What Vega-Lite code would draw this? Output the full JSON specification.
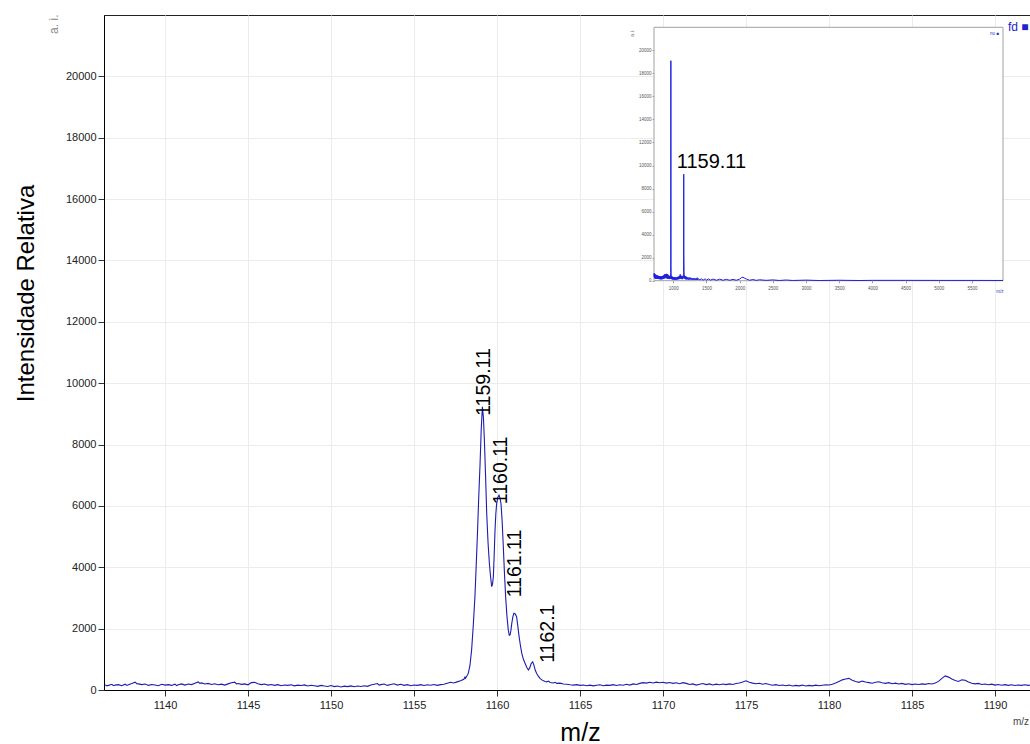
{
  "$schema": "https://vega.github.io/schema/vega-lite/v6.json",
  "width": 926,
  "height": 675,
  "autosize": {"type": "none"},
  "padding": {"left": 104, "top": 15, "right": 0, "bottom": 54},
  "background": "white",
  "config": {"font": "Liberation Sans", "view": {"stroke": "#222", "strokeWidth": 1}},
  "datasets": {
    "main": [
      {"mz":1136.4,"i":170},{"mz":1136.5,"i":135},{"mz":1136.6,"i":150},{"mz":1136.8,"i":185},{"mz":1136.9,"i":140},{"mz":1137.0,"i":160},{"mz":1137.2,"i":175},{"mz":1137.4,"i":140},{"mz":1137.6,"i":190},{"mz":1137.7,"i":150},{"mz":1137.8,"i":170},{"mz":1138.0,"i":210},{"mz":1138.2,"i":255},{"mz":1138.3,"i":205},{"mz":1138.4,"i":200},{"mz":1138.6,"i":175},{"mz":1138.8,"i":195},{"mz":1139.0,"i":150},{"mz":1139.2,"i":180},{"mz":1139.4,"i":165},{"mz":1139.6,"i":140},{"mz":1139.8,"i":185},{"mz":1140.0,"i":160},{"mz":1140.2,"i":175},{"mz":1140.4,"i":150},{"mz":1140.6,"i":190},{"mz":1140.7,"i":145},{"mz":1140.8,"i":170},{"mz":1141.0,"i":200},{"mz":1141.2,"i":160},{"mz":1141.4,"i":195},{"mz":1141.6,"i":175},{"mz":1141.8,"i":220},{"mz":1142.0,"i":265},{"mz":1142.1,"i":215},{"mz":1142.2,"i":230},{"mz":1142.4,"i":195},{"mz":1142.6,"i":215},{"mz":1142.8,"i":180},{"mz":1143.0,"i":205},{"mz":1143.2,"i":170},{"mz":1143.4,"i":190},{"mz":1143.6,"i":160},{"mz":1143.8,"i":200},{"mz":1144.0,"i":235},{"mz":1144.2,"i":255},{"mz":1144.3,"i":200},{"mz":1144.4,"i":210},{"mz":1144.6,"i":185},{"mz":1144.8,"i":200},{"mz":1145.0,"i":170},{"mz":1145.2,"i":240},{"mz":1145.4,"i":250},{"mz":1145.6,"i":205},{"mz":1145.8,"i":175},{"mz":1146.0,"i":195},{"mz":1146.2,"i":160},{"mz":1146.4,"i":180},{"mz":1146.6,"i":150},{"mz":1146.8,"i":175},{"mz":1147.0,"i":140},{"mz":1147.2,"i":165},{"mz":1147.4,"i":150},{"mz":1147.6,"i":170},{"mz":1147.8,"i":135},{"mz":1148.0,"i":160},{"mz":1148.2,"i":145},{"mz":1148.4,"i":165},{"mz":1148.6,"i":130},{"mz":1148.8,"i":155},{"mz":1149.0,"i":140},{"mz":1149.2,"i":120},{"mz":1149.4,"i":150},{"mz":1149.6,"i":130},{"mz":1149.8,"i":115},{"mz":1150.0,"i":145},{"mz":1150.2,"i":110},{"mz":1150.4,"i":130},{"mz":1150.6,"i":100},{"mz":1150.8,"i":125},{"mz":1151.0,"i":110},{"mz":1151.2,"i":135},{"mz":1151.4,"i":105},{"mz":1151.6,"i":130},{"mz":1151.8,"i":115},{"mz":1152.0,"i":140},{"mz":1152.2,"i":120},{"mz":1152.4,"i":165},{"mz":1152.6,"i":190},{"mz":1152.8,"i":210},{"mz":1152.9,"i":160},{"mz":1153.0,"i":175},{"mz":1153.2,"i":195},{"mz":1153.4,"i":150},{"mz":1153.6,"i":180},{"mz":1153.8,"i":205},{"mz":1154.0,"i":160},{"mz":1154.2,"i":185},{"mz":1154.4,"i":150},{"mz":1154.6,"i":175},{"mz":1154.8,"i":140},{"mz":1155.0,"i":165},{"mz":1155.2,"i":150},{"mz":1155.4,"i":175},{"mz":1155.6,"i":145},{"mz":1155.8,"i":170},{"mz":1156.0,"i":155},{"mz":1156.2,"i":180},{"mz":1156.4,"i":150},{"mz":1156.6,"i":175},{"mz":1156.8,"i":190},{"mz":1157.0,"i":220},{"mz":1157.2,"i":250},{"mz":1157.4,"i":230},{"mz":1157.6,"i":265},{"mz":1157.8,"i":300},{"mz":1158.0,"i":350},{"mz":1158.07,"i":420},{"mz":1158.1,"i":380},{"mz":1158.2,"i":470},{"mz":1158.27,"i":540},{"mz":1158.37,"i":800},{"mz":1158.47,"i":1300},{"mz":1158.57,"i":2100},{"mz":1158.67,"i":3040},{"mz":1158.75,"i":4100},{"mz":1158.83,"i":5210},{"mz":1158.9,"i":6300},{"mz":1158.98,"i":7380},{"mz":1159.05,"i":8500},{"mz":1159.12,"i":9230},{"mz":1159.18,"i":8900},{"mz":1159.24,"i":8140},{"mz":1159.31,"i":7000},{"mz":1159.38,"i":5750},{"mz":1159.46,"i":4800},{"mz":1159.54,"i":4130},{"mz":1159.61,"i":3700},{"mz":1159.68,"i":3370},{"mz":1159.73,"i":3450},{"mz":1159.78,"i":3690},{"mz":1159.83,"i":4400},{"mz":1159.88,"i":5210},{"mz":1159.93,"i":5750},{"mz":1159.98,"i":6080},{"mz":1160.05,"i":6280},{"mz":1160.12,"i":6350},{"mz":1160.18,"i":6250},{"mz":1160.24,"i":6080},{"mz":1160.31,"i":5500},{"mz":1160.38,"i":4670},{"mz":1160.45,"i":3800},{"mz":1160.52,"i":3040},{"mz":1160.6,"i":2400},{"mz":1160.68,"i":1950},{"mz":1160.74,"i":1780},{"mz":1160.79,"i":1800},{"mz":1160.84,"i":1950},{"mz":1160.89,"i":2170},{"mz":1160.96,"i":2400},{"mz":1161.02,"i":2500},{"mz":1161.1,"i":2480},{"mz":1161.18,"i":2390},{"mz":1161.25,"i":2100},{"mz":1161.33,"i":1740},{"mz":1161.41,"i":1450},{"mz":1161.49,"i":1200},{"mz":1161.59,"i":1000},{"mz":1161.69,"i":870},{"mz":1161.79,"i":740},{"mz":1161.89,"i":650},{"mz":1161.97,"i":720},{"mz":1162.06,"i":860},{"mz":1162.15,"i":920},{"mz":1162.22,"i":820},{"mz":1162.3,"i":650},{"mz":1162.39,"i":540},{"mz":1162.49,"i":450},{"mz":1162.59,"i":380},{"mz":1162.7,"i":330},{"mz":1162.8,"i":300},{"mz":1162.9,"i":280},{"mz":1163.0,"i":265},{"mz":1163.1,"i":290},{"mz":1163.2,"i":245},{"mz":1163.4,"i":230},{"mz":1163.5,"i":250},{"mz":1163.6,"i":215},{"mz":1163.8,"i":225},{"mz":1164.0,"i":195},{"mz":1164.2,"i":185},{"mz":1164.4,"i":170},{"mz":1164.6,"i":160},
      {"mz":1164.8,"i":175},{"mz":1165.0,"i":150},{"mz":1165.2,"i":165},{"mz":1165.4,"i":140},{"mz":1165.6,"i":160},{"mz":1165.8,"i":135},{"mz":1166.0,"i":155},{"mz":1166.2,"i":170},{"mz":1166.4,"i":140},{"mz":1166.6,"i":160},{"mz":1166.8,"i":150},{"mz":1167.0,"i":175},{"mz":1167.2,"i":145},{"mz":1167.4,"i":170},{"mz":1167.6,"i":155},{"mz":1167.8,"i":185},{"mz":1168.0,"i":160},{"mz":1168.2,"i":200},{"mz":1168.4,"i":180},{"mz":1168.6,"i":215},{"mz":1168.8,"i":240},{"mz":1169.0,"i":225},{"mz":1169.2,"i":250},{"mz":1169.4,"i":230},{"mz":1169.6,"i":255},{"mz":1169.8,"i":235},{"mz":1170.0,"i":250},{"mz":1170.2,"i":225},{"mz":1170.4,"i":245},{"mz":1170.6,"i":215},{"mz":1170.8,"i":235},{"mz":1171.0,"i":205},{"mz":1171.2,"i":240},{"mz":1171.4,"i":215},{"mz":1171.6,"i":180},{"mz":1171.8,"i":200},{"mz":1172.0,"i":160},{"mz":1172.2,"i":185},{"mz":1172.4,"i":210},{"mz":1172.6,"i":175},{"mz":1172.8,"i":200},{"mz":1173.0,"i":165},{"mz":1173.2,"i":190},{"mz":1173.4,"i":170},{"mz":1173.6,"i":195},{"mz":1173.8,"i":175},{"mz":1174.0,"i":200},{"mz":1174.2,"i":180},{"mz":1174.4,"i":210},{"mz":1174.6,"i":230},{"mz":1174.8,"i":260},{"mz":1175.0,"i":300},{"mz":1175.2,"i":255},{"mz":1175.4,"i":225},{"mz":1175.6,"i":205},{"mz":1175.8,"i":220},{"mz":1176.0,"i":190},{"mz":1176.2,"i":210},{"mz":1176.4,"i":180},{"mz":1176.6,"i":155},{"mz":1176.8,"i":175},{"mz":1177.0,"i":145},{"mz":1177.2,"i":165},{"mz":1177.4,"i":140},{"mz":1177.6,"i":160},{"mz":1177.8,"i":130},{"mz":1178.0,"i":150},{"mz":1178.2,"i":135},{"mz":1178.4,"i":160},{"mz":1178.6,"i":130},{"mz":1178.8,"i":150},{"mz":1179.0,"i":135},{"mz":1179.2,"i":160},{"mz":1179.4,"i":140},{"mz":1179.6,"i":155},{"mz":1179.8,"i":170},{"mz":1180.0,"i":165},{"mz":1180.2,"i":190},{"mz":1180.4,"i":230},{"mz":1180.6,"i":280},{"mz":1180.8,"i":330},{"mz":1181.0,"i":360},{"mz":1181.2,"i":380},{"mz":1181.4,"i":320},{"mz":1181.6,"i":280},{"mz":1181.8,"i":250},{"mz":1182.0,"i":290},{"mz":1182.2,"i":260},{"mz":1182.4,"i":240},{"mz":1182.6,"i":220},{"mz":1182.8,"i":250},{"mz":1183.0,"i":270},{"mz":1183.2,"i":235},{"mz":1183.4,"i":215},{"mz":1183.6,"i":240},{"mz":1183.8,"i":205},{"mz":1184.0,"i":225},{"mz":1184.2,"i":195},{"mz":1184.4,"i":215},{"mz":1184.6,"i":185},{"mz":1184.8,"i":205},{"mz":1185.0,"i":175},{"mz":1185.2,"i":195},{"mz":1185.4,"i":180},{"mz":1185.6,"i":200},{"mz":1185.8,"i":185},{"mz":1186.0,"i":210},{"mz":1186.2,"i":195},{"mz":1186.4,"i":230},{"mz":1186.6,"i":280},{"mz":1186.8,"i":380},{"mz":1187.0,"i":460},{"mz":1187.2,"i":420},{"mz":1187.4,"i":360},{"mz":1187.6,"i":310},{"mz":1187.8,"i":280},{"mz":1188.0,"i":330},{"mz":1188.2,"i":320},{"mz":1188.4,"i":260},{"mz":1188.6,"i":220},{"mz":1188.8,"i":200},{"mz":1189.0,"i":215},{"mz":1189.2,"i":180},{"mz":1189.4,"i":195},{"mz":1189.6,"i":170},{"mz":1189.8,"i":190},{"mz":1190.0,"i":160},{"mz":1190.2,"i":180},{"mz":1190.4,"i":155},{"mz":1190.6,"i":175},{"mz":1190.8,"i":150},{"mz":1191.0,"i":170},{"mz":1191.2,"i":145},{"mz":1191.4,"i":165},{"mz":1191.6,"i":150},{"mz":1191.8,"i":170},{"mz":1192.0,"i":150},{"mz":1192.1,"i":160}
    ],
    "peaks": [
      {"label":"1159.11","mz":1159.12,"i":9230},
      {"label":"1160.11","mz":1160.12,"i":6350},
      {"label":"1161.11","mz":1161.02,"i":2500},
      {"label":"1162.1","mz":1162.15,"i":920}
    ],
    "notes": [
      {"t":"a. i.","kind":"ai","mz":1133.55,"i":21700},
      {"t":"m/z","kind":"mz","mz":1191.08,"i":-1140},
      {"t":"fd ■","kind":"legend","mz":1190.78,"i":21480}
    ],
    "inset": [
      {"mz":710,"i":350},{"mz":713,"i":650},{"mz":716,"i":250},{"mz":719,"i":600},{"mz":722,"i":220},{"mz":725,"i":560},{"mz":728,"i":200},{"mz":731,"i":520},{"mz":734,"i":180},{"mz":737,"i":480},{"mz":740,"i":200},{"mz":744,"i":500},{"mz":748,"i":180},{"mz":752,"i":460},{"mz":756,"i":170},{"mz":760,"i":450},{"mz":765,"i":160},{"mz":770,"i":420},{"mz":775,"i":150},{"mz":780,"i":420},{"mz":785,"i":140},{"mz":790,"i":400},{"mz":795,"i":130},{"mz":800,"i":400},{"mz":805,"i":130},{"mz":810,"i":380},{"mz":815,"i":120},{"mz":820,"i":380},{"mz":825,"i":120},{"mz":830,"i":370},{"mz":835,"i":130},{"mz":840,"i":400},{"mz":845,"i":150},{"mz":850,"i":450},{"mz":855,"i":170},{"mz":860,"i":500},{"mz":865,"i":200},{"mz":870,"i":540},{"mz":875,"i":220},{"mz":880,"i":580},{"mz":885,"i":230},{"mz":890,"i":580},{"mz":895,"i":220},{"mz":900,"i":600},{"mz":905,"i":200},{"mz":910,"i":560},{"mz":915,"i":180},{"mz":920,"i":520},{"mz":925,"i":160},{"mz":930,"i":460},{"mz":935,"i":150},{"mz":940,"i":420},{"mz":945,"i":140},{"mz":950,"i":400},{"mz":955,"i":150},{"mz":960,"i":500},{"mz":962,"i":700},{"mz":964,"i":19100},{"mz":966,"i":1250},{"mz":968,"i":600},{"mz":972,"i":150},{"mz":976,"i":380},{"mz":980,"i":120},{"mz":985,"i":350},{"mz":990,"i":110},{"mz":995,"i":330},{"mz":1000,"i":100},{"mz":1005,"i":320},{"mz":1010,"i":100},{"mz":1015,"i":300},{"mz":1020,"i":90},{"mz":1025,"i":290},{"mz":1030,"i":90},{"mz":1035,"i":280},{"mz":1040,"i":90},{"mz":1045,"i":280},{"mz":1050,"i":100},{"mz":1055,"i":300},{"mz":1060,"i":110},{"mz":1065,"i":320},{"mz":1070,"i":120},{"mz":1075,"i":350},{"mz":1080,"i":130},{"mz":1085,"i":380},{"mz":1090,"i":140},{"mz":1095,"i":420},{"mz":1100,"i":160},{"mz":1105,"i":550},{"mz":1110,"i":200},{"mz":1115,"i":450},{"mz":1120,"i":150},{"mz":1125,"i":380},{"mz":1130,"i":130},{"mz":1135,"i":350},{"mz":1140,"i":140},{"mz":1145,"i":420},{"mz":1150,"i":200},{"mz":1154,"i":550},{"mz":1156,"i":700},{"mz":1158,"i":9250},{"mz":1160,"i":2300},{"mz":1163,"i":800},{"mz":1166,"i":250},{"mz":1170,"i":450},{"mz":1175,"i":150},{"mz":1180,"i":400},{"mz":1185,"i":130},{"mz":1190,"i":350},{"mz":1195,"i":110},{"mz":1200,"i":330},{"mz":1210,"i":100},{"mz":1220,"i":300},{"mz":1230,"i":90},{"mz":1240,"i":280},{"mz":1250,"i":80},{"mz":1260,"i":260},{"mz":1270,"i":80},{"mz":1280,"i":240},{"mz":1290,"i":70},{"mz":1300,"i":220},{"mz":1310,"i":70},{"mz":1320,"i":220},{"mz":1330,"i":60},{"mz":1340,"i":200},{"mz":1350,"i":60},{"mz":1360,"i":260},{"mz":1370,"i":60},{"mz":1380,"i":180},{"mz":1400,"i":60},{"mz":1420,"i":170},{"mz":1450,"i":50},{"mz":1480,"i":160},{"mz":1500,"i":50},{"mz":1530,"i":150},{"mz":1560,"i":50},{"mz":1600,"i":140},{"mz":1650,"i":40},{"mz":1700,"i":130},{"mz":1750,"i":40},{"mz":1800,"i":120},{"mz":1850,"i":40},{"mz":1900,"i":110},{"mz":1950,"i":40},{"mz":2000,"i":140},{"mz":2030,"i":280},{"mz":2050,"i":300},{"mz":2070,"i":230},{"mz":2100,"i":150},{"mz":2150,"i":40},{"mz":2200,"i":100},{"mz":2250,"i":30},{"mz":2300,"i":80},{"mz":2400,"i":30},{"mz":2500,"i":70},{"mz":2600,"i":20},{"mz":2700,"i":60},{"mz":2800,"i":20},{"mz":3000,"i":50},{"mz":3200,"i":15},{"mz":3500,"i":40},{"mz":3800,"i":15},{"mz":4000,"i":30},{"mz":4500,"i":30},{"mz":5000,"i":25},{"mz":5500,"i":25},{"mz":5967,"i":20}
    ],
    "insetFrame": [{"x":710,"x2":5967,"y":0,"y2":22000}],
    "insetPeak": [{"label":"1159.11","mz":1158,"i":9250}],
    "insetNotes": [
      {"t":"a. i.","kind":"ai","mz":409,"i":21500},
      {"t":"m/z","kind":"mz","mz":5864,"i":-1100},
      {"t":"no ■","kind":"legend","mz":5773,"i":21300}
    ]
  },
  "layer": [
    {
      "layer": [
        {
          "data": {"name": "main"},
          "mark": {"type": "line", "color": "#1c1cb0", "strokeWidth": 1.1},
          "encoding": {
            "x": {"field": "mz", "type": "quantitative",
              "scale": {"domain": [1136.325, 1192.108], "nice": false, "zero": false},
              "axis": {"title": "m/z", "values": [1140,1145,1150,1155,1160,1165,1170,1175,1180,1185,1190], "format": "d",
                "grid": true, "gridColor": "#ececec", "tickSize": 6, "tickColor": "#333", "domainColor": "#000",
                "labelFontSize": 11, "labelColor": "#222", "labelPadding": 3,
                "titleFontSize": 25, "titleFontWeight": "normal", "titleColor": "#000",
                "titleX": 476, "titleY": 50, "titleBaseline": "alphabetic"}},
            "y": {"field": "i", "type": "quantitative",
              "scale": {"domain": [0, 22000], "nice": false, "zero": false},
              "axis": {"title": "Intensidade Relativa", "values": [0,2000,4000,6000,8000,10000,12000,14000,16000,18000,20000], "format": "d",
                "grid": true, "gridColor": "#ececec", "tickSize": 6, "tickColor": "#333", "domainColor": "#000",
                "labelFontSize": 11, "labelColor": "#222", "labelPadding": 2,
                "titleFontSize": 24, "titleFontWeight": "normal", "titleColor": "#000",
                "titleX": -71, "titleY": 278, "titleBaseline": "alphabetic", "titleAngle": 270}}
          }
        },
        {
          "data": {"name": "peaks"},
          "transform": [{"filter": "datum.label == '1159.11' || datum.label == '1160.11'"}],
          "mark": {"type": "text", "angle": 270, "align": "left", "baseline": "middle", "fontSize": 19.5, "color": "#000", "dx": -9, "dy": 2},
          "encoding": {"x": {"field": "mz", "type": "quantitative"}, "y": {"field": "i", "type": "quantitative"}, "text": {"field": "label"}}
        },
        {
          "data": {"name": "peaks"},
          "transform": [{"filter": "datum.label == '1161.11'"}],
          "mark": {"type": "text", "angle": 270, "align": "left", "baseline": "middle", "fontSize": 19.5, "color": "#000", "dx": 16, "dy": 1},
          "encoding": {"x": {"field": "mz", "type": "quantitative"}, "y": {"field": "i", "type": "quantitative"}, "text": {"field": "label"}}
        },
        {
          "data": {"name": "peaks"},
          "transform": [{"filter": "datum.label == '1162.1'"}],
          "mark": {"type": "text", "angle": 270, "align": "left", "baseline": "middle", "fontSize": 19.5, "color": "#000", "dx": -1, "dy": 15},
          "encoding": {"x": {"field": "mz", "type": "quantitative"}, "y": {"field": "i", "type": "quantitative"}, "text": {"field": "label"}}
        },
        {
          "data": {"name": "notes"},
          "transform": [{"filter": "datum.kind == 'ai'"}],
          "mark": {"type": "text", "angle": 270, "align": "center", "baseline": "alphabetic", "fontSize": 12, "color": "#888"},
          "encoding": {"x": {"field": "mz", "type": "quantitative"}, "y": {"field": "i", "type": "quantitative"}, "text": {"field": "t"}}
        },
        {
          "data": {"name": "notes"},
          "transform": [{"filter": "datum.kind == 'mz'"}],
          "mark": {"type": "text", "align": "left", "baseline": "alphabetic", "fontSize": 10, "color": "#444"},
          "encoding": {"x": {"field": "mz", "type": "quantitative"}, "y": {"field": "i", "type": "quantitative"}, "text": {"field": "t"}}
        },
        {
          "data": {"name": "notes"},
          "transform": [{"filter": "datum.kind == 'legend'"}],
          "mark": {"type": "text", "align": "left", "baseline": "alphabetic", "fontSize": 12, "color": "#2222cc"},
          "encoding": {"x": {"field": "mz", "type": "quantitative"}, "y": {"field": "i", "type": "quantitative"}, "text": {"field": "t"}}
        }
      ]
    },
    {
      "layer": [
        {
          "data": {"name": "insetFrame"},
          "mark": {"type": "rect", "fill": "white", "stroke": "#a0a0a0", "strokeWidth": 1},
          "encoding": {
            "x": {"field": "x", "type": "quantitative",
              "scale": {"domain": [710, 5967], "range": [550, 899], "nice": false, "zero": false},
              "axis": {"orient": "bottom", "offset": -409.3, "values": [1000,1500,2000,2500,3000,3500,4000,4500,5000,5500], "format": "d",
                "grid": false, "domain": false, "tickSize": 2, "tickColor": "#999", "labelFontSize": 4.5, "labelColor": "#555", "labelPadding": 3, "title": null}},
            "x2": {"field": "x2"},
            "y": {"field": "y", "type": "quantitative",
              "scale": {"domain": [0, 22000], "range": [265.7, 12.3], "nice": false, "zero": false},
              "axis": {"orient": "left", "offset": -550, "values": [0,2000,4000,6000,8000,10000,12000,14000,16000,18000,20000], "format": "d",
                "grid": false, "domain": false, "tickSize": 2, "tickColor": "#999", "labelFontSize": 4.5, "labelColor": "#555", "labelPadding": 1, "title": null}},
            "y2": {"field": "y2"}
          }
        },
        {
          "data": {"name": "inset"},
          "mark": {"type": "line", "color": "#2020e0", "strokeWidth": 1},
          "encoding": {"x": {"field": "mz", "type": "quantitative"}, "y": {"field": "i", "type": "quantitative"}}
        },
        {
          "data": {"name": "insetPeak"},
          "mark": {"type": "text", "align": "left", "baseline": "alphabetic", "fontSize": 20, "color": "#000", "dx": -7, "dy": -6},
          "encoding": {"x": {"field": "mz", "type": "quantitative"}, "y": {"field": "i", "type": "quantitative"}, "text": {"field": "label"}}
        },
        {
          "data": {"name": "insetNotes"},
          "transform": [{"filter": "datum.kind == 'ai'"}],
          "mark": {"type": "text", "angle": 270, "align": "center", "baseline": "alphabetic", "fontSize": 4.5, "color": "#666"},
          "encoding": {"x": {"field": "mz", "type": "quantitative"}, "y": {"field": "i", "type": "quantitative"}, "text": {"field": "t"}}
        },
        {
          "data": {"name": "insetNotes"},
          "transform": [{"filter": "datum.kind != 'ai'"}],
          "mark": {"type": "text", "align": "left", "baseline": "alphabetic", "fontSize": 4.5, "color": "#3333cc"},
          "encoding": {"x": {"field": "mz", "type": "quantitative"}, "y": {"field": "i", "type": "quantitative"}, "text": {"field": "t"}}
        }
      ]
    }
  ],
  "resolve": {"scale": {"x": "independent", "y": "independent"}, "axis": {"x": "independent", "y": "independent"}}
}
